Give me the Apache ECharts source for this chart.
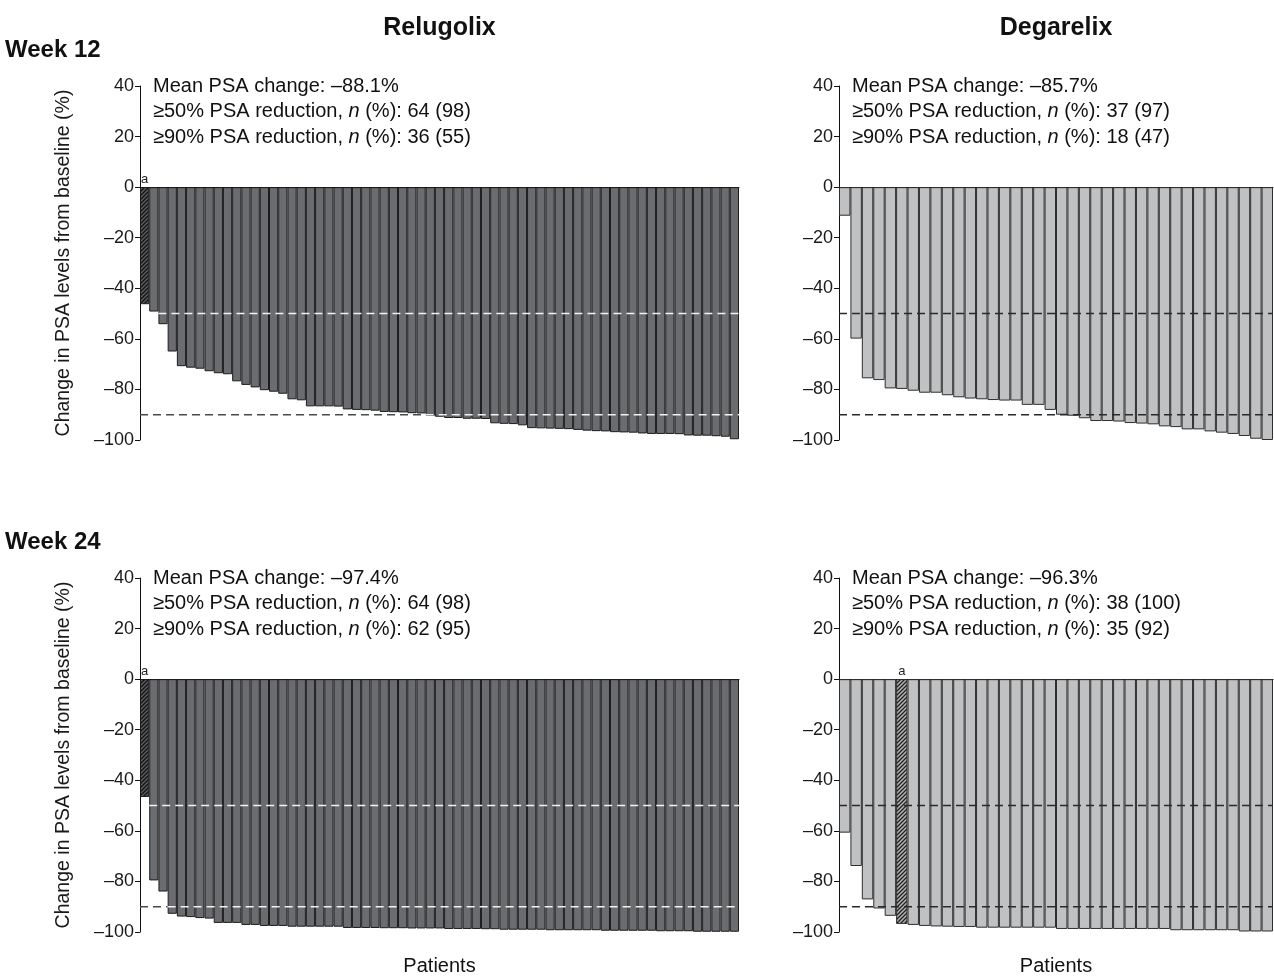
<!DOCTYPE html>
<html><head><meta charset="utf-8">
<script src="https://cdn.jsdelivr.net/npm/echarts@6/dist/echarts.min.js"></script>
<style>html,body{margin:0;padding:0;background:#fff}#c{width:1274px;height:977px}</style>
</head><body><div id="c"></div>
<script>
// ---- data ----
const relugolixWeek12 = [-46.3,-49.2,-54.2,-65.0,-70.8,-71.4,-71.8,-72.8,-73.6,-74.0,-76.8,-78.2,-79.2,-80.3,-80.9,-81.7,-83.9,-84.3,-86.7,-86.7,-86.7,-86.8,-87.9,-88.1,-88.2,-88.4,-88.9,-89.0,-89.1,-89.4,-89.5,-90.4,-90.8,-91.3,-91.3,-91.6,-91.6,-91.7,-93.4,-93.6,-93.7,-94.2,-95.3,-95.4,-95.5,-95.6,-95.7,-96.0,-96.3,-96.5,-96.6,-96.9,-97.0,-97.1,-97.4,-97.6,-97.6,-97.6,-97.7,-98.2,-98.3,-98.3,-98.5,-98.7,-99.7];
const degarelixWeek12 = [-11.3,-59.9,-75.6,-76.3,-79.6,-79.8,-80.5,-81.3,-81.3,-82.3,-83.1,-83.6,-83.9,-84.2,-84.4,-84.4,-86.1,-86.1,-88.1,-90.0,-90.4,-91.4,-92.5,-92.5,-92.7,-93.3,-93.5,-93.8,-94.6,-94.9,-95.8,-95.8,-96.6,-97.1,-97.6,-98.4,-99.5,-100.0];
const relugolixWeek24 = [-46.6,-79.6,-84.0,-92.8,-93.9,-94.1,-94.5,-94.7,-96.4,-96.4,-96.4,-97.2,-97.2,-97.6,-97.6,-97.6,-97.9,-97.9,-97.9,-97.9,-97.9,-97.9,-98.4,-98.4,-98.4,-98.4,-98.5,-98.5,-98.5,-98.6,-98.6,-98.6,-98.6,-98.8,-98.8,-98.8,-98.8,-98.9,-98.9,-99.1,-99.1,-99.1,-99.1,-99.1,-99.3,-99.3,-99.3,-99.3,-99.3,-99.3,-99.5,-99.5,-99.5,-99.5,-99.5,-99.5,-99.7,-99.7,-99.7,-99.7,-99.9,-99.9,-99.9,-99.9,-99.9];
const degarelixWeek24 = [-60.7,-73.9,-87.1,-90.7,-93.6,-96.8,-97.2,-97.6,-97.8,-97.9,-98.0,-98.0,-98.3,-98.3,-98.3,-98.3,-98.3,-98.3,-98.3,-98.8,-98.8,-98.8,-98.8,-98.8,-98.8,-98.8,-98.8,-98.8,-98.8,-99.3,-99.3,-99.3,-99.3,-99.3,-99.3,-99.8,-99.8,-99.8];
const hatchedIndex = [0, -1, 0, 5];          // footnote "a" bar per panel (-1 = none)
const meanChange = ['–88.1%', '–85.7%', '–97.4%', '–96.3%'];
const reduction50 = ['64 (98)', '37 (97)', '64 (98)', '38 (100)'];
const reduction90 = ['36 (55)', '18 (47)', '62 (95)', '35 (92)'];
const thresholds = [-50, -90];
const yMin = -100, yMax = 40, yStep = 20;
const drugNames = ['Relugolix', 'Degarelix'];
const weekNames = ['Week 12', 'Week 24'];
const xAxisName = 'Patients';
const yAxisName = 'Change in PSA levels from baseline (%)';

// ---- layout / style ----
const FONT = '"Liberation Sans", Arial, sans-serif';
const panels = [
  {data: relugolixWeek12, drug: 0, left: 140, width: 599, top: 86},
  {data: degarelixWeek12, drug: 1, left: 839, width: 434, top: 86},
  {data: relugolixWeek24, drug: 0, left: 140, width: 599, top: 578},
  {data: degarelixWeek24, drug: 1, left: 839, width: 434, top: 578}
];
const PH = 354;
const fills = ['#6b6c70', '#c0c1c3'];
const borders = ['#1c1c1c', '#2e2e2e'];

function hatch(bg, fg) {
  const c = document.createElement('canvas');
  c.width = 4; c.height = 4;
  const g = c.getContext('2d');
  g.fillStyle = bg; g.fillRect(0, 0, 4, 4);
  g.strokeStyle = fg; g.lineWidth = 1.3;
  g.beginPath();
  g.moveTo(-1, 5); g.lineTo(5, -1);
  g.moveTo(-3, 3); g.lineTo(3, -3);
  g.moveTo(1, 7); g.lineTo(7, 1);
  g.stroke();
  return c;
}
const hatchPatterns = [
  {image: hatch('#5a5b5e', '#151515'), repeat: 'repeat'},
  {image: hatch('#b4b4b4', '#222222'), repeat: 'repeat'}
];

const grid = [], xAxis = [], yAxis = [], series = [], graphic = [];
const tickFmt = v => v < 0 ? '–' + Math.abs(v) : String(v);

panels.forEach((p, i) => {
  grid.push({left: p.left, top: p.top, width: p.width, height: PH, containLabel: false});
  xAxis.push({
    type: 'category', gridIndex: i, data: p.data.map((_, k) => k + 1),
    boundaryGap: true,
    axisLine: {show: true, onZero: true, lineStyle: {color: '#111', width: 1}},
    axisTick: {show: false}, axisLabel: {show: false}, splitLine: {show: false}
  });
  yAxis.push({
    type: 'value', gridIndex: i, min: yMin, max: yMax, interval: yStep,
    axisLine: {show: true, lineStyle: {color: '#111', width: 1}},
    axisTick: {show: true, length: 5, lineStyle: {color: '#111'}},
    axisLabel: {color: '#1a1a1a', fontSize: 18, fontFamily: FONT, margin: 6, formatter: tickFmt},
    splitLine: {show: false},
    name: p.drug === 0 ? yAxisName : '',
    nameLocation: 'middle', nameGap: 66, nameRotate: 90,
    nameTextStyle: {color: '#1a1a1a', fontSize: 19.5, fontFamily: FONT}
  });
  series.push({
    type: 'bar', xAxisIndex: i, yAxisIndex: i,
    barCategoryGap: 0, barGap: 0,
    itemStyle: {color: fills[p.drug], borderColor: borders[p.drug], borderWidth: 1},
    emphasis: {disabled: true}, silent: true, animation: false,
    data: p.data.map((v, k) => k === hatchedIndex[i] ? {
      value: v,
      itemStyle: {color: hatchPatterns[p.drug]},
      label: {show: true, position: 'top', distance: 1, formatter: 'a', fontSize: 13, color: '#222', fontFamily: FONT}
    } : v),
    z: 2
  });
});

// hidden value x-axes for the threshold reference lines
panels.forEach((p, i) => {
  const N = p.data.length;
  xAxis.push({type: 'value', gridIndex: i, min: 0, max: N, show: false});
  const xi = panels.length + i;
  const addLine = (x0, x1, y, color) => series.push({
    type: 'line', xAxisIndex: xi, yAxisIndex: i, silent: true, animation: false,
    showSymbol: false, symbol: 'none', z: 5,
    lineStyle: {color, width: 1.5, type: [8, 5]},
    data: [[x0, y], [x1, y]]
  });
  thresholds.forEach(t => {
    if (p.drug === 1) { addLine(0, N, t, '#2a2a2a'); return; }
    let k = p.data.findIndex(v => v <= t);
    if (k < 0) k = N;
    if (k > 0 && t === thresholds[1]) addLine(0, k, t, '#4a4a4a');
    addLine(k, N, t, '#f2f2f2');
  });
  // statistics text block
  const x = p.left + 13, y0 = p.top;
  const rich = {a: {fontSize: 20, fontFamily: FONT, fill: '#111', color: '#111'},
                i: {fontSize: 20, fontFamily: FONT, fontStyle: 'italic', fill: '#111', color: '#111'}};
  const lines = [
    '{a|Mean PSA change: ' + meanChange[i] + '}',
    '{a|≥50% PSA reduction, }{i|n}{a| (%): ' + reduction50[i] + '}',
    '{a|≥90% PSA reduction, }{i|n}{a| (%): ' + reduction90[i] + '}'
  ];
  lines.forEach((t, j) => graphic.push({
    type: 'text', x: x, y: y0 + j * 25.5, silent: true,
    style: {text: t, rich: rich, verticalAlign: 'middle', align: 'left', fill: '#111'}
  }));
});

// headers
panels.slice(0, 2).forEach((p, i) => graphic.push({
  type: 'text', x: p.left + p.width / 2, y: 28, silent: true,
  style: {text: drugNames[i], font: 'bold 25px ' + FONT, fill: '#111', align: 'center', verticalAlign: 'middle'}
}));
[0, 2].forEach((pi, j) => graphic.push({
  type: 'text', x: 5, y: panels[pi].top - 36, silent: true,
  style: {text: weekNames[j], font: 'bold 24px ' + FONT, fill: '#111', align: 'left', verticalAlign: 'middle'}
}));
panels.slice(2).forEach(p => graphic.push({
  type: 'text', x: p.left + p.width / 2, y: 966, silent: true,
  style: {text: xAxisName, font: '20px ' + FONT, fill: '#111', align: 'center', verticalAlign: 'middle'}
}));

const chart = echarts.init(document.getElementById('c'), null, {renderer: 'canvas'});
chart.setOption({animation: false, backgroundColor: '#fff', grid, xAxis, yAxis, series, graphic});
</script></body></html>
